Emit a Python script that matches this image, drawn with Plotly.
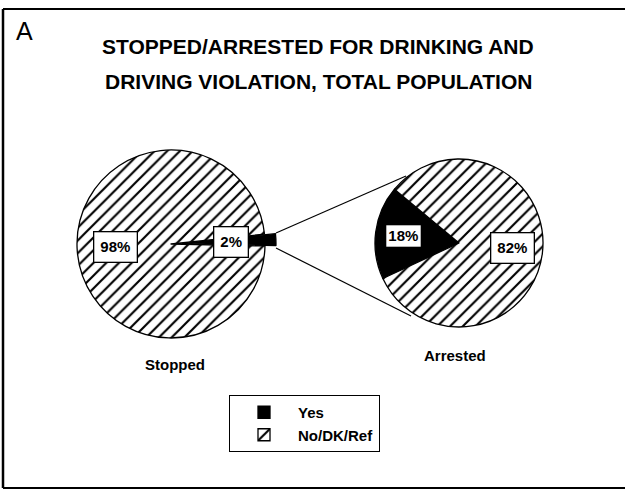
import plotly.graph_objects as go

# ---- data ----
categories = ["Yes", "No/DK/Ref"]
stopped_values = [2, 98]
arrested_values = [18, 82]
pie_names = ["Stopped", "Arrested"]
title_lines = ["STOPPED/ARRESTED FOR DRINKING AND", "DRIVING VIOLATION, TOTAL POPULATION"]
panel_letter = "A"

W, H = 625, 491
FONT = "Liberation Sans"


def px_x(x):
    return x / W


def px_y(y):
    return 1 - y / H


def box_x(x0, x1):
    return [x0 / W, x1 / W]


def box_y(y0, y1):
    return [1 - y1 / H, 1 - y0 / H]


common_marker = dict(
    colors=["black", "white"],
    line=dict(color="black", width=1.3),
    pattern=dict(shape=["", "/"], fgcolor="black", bgcolor="white",
                 size=9, solidity=0.24),
)

fig = go.Figure()
fig.add_trace(go.Pie(
    labels=categories, values=stopped_values, name=pie_names[0],
    sort=False, direction="clockwise", rotation=84,
    pull=[0.117, 0], textinfo="none", hoverinfo="label+percent",
    marker=common_marker,
    domain=dict(x=box_x(66, 276), y=box_y(139, 349)),
))
fig.add_trace(go.Pie(
    labels=categories, values=arrested_values, name=pie_names[1],
    sort=False, direction="clockwise", rotation=245,
    pull=[0, 0], textinfo="none", hoverinfo="label+percent",
    marker=common_marker,
    domain=dict(x=box_x(375, 543), y=box_y(159, 327)),
))

annotations = []
# title
for txt, yy in zip(title_lines, [47, 81]):
    annotations.append(dict(text=txt, x=px_x(318), y=px_y(yy), xref="paper", yref="paper",
                            showarrow=False, xanchor="center", yanchor="middle",
                            font=dict(family=FONT, size=21, color="black", weight="bold")))
annotations.append(dict(text=panel_letter, x=px_x(14), y=px_y(31), xref="paper", yref="paper",
                        showarrow=False, xanchor="left", yanchor="middle",
                        font=dict(family=FONT, size=25, color="black")))

# percentage labels (boxes)
label_specs = [
    (f"{stopped_values[1]}%", 115, 247, 6),
    (f"{stopped_values[0]}%", 231, 242, 6),
    (f"{arrested_values[0]}%", 403, 236, 2),
    (f"{arrested_values[1]}%", 512, 248, 6),
]
for txt, x, y, pad in label_specs:
    annotations.append(dict(text=txt, x=px_x(x), y=px_y(y), xref="paper", yref="paper",
                            showarrow=False, xanchor="center", yanchor="middle",
                            bgcolor="white", bordercolor="black", borderwidth=1.3, borderpad=pad,
                            font=dict(family=FONT, size=15, color="black", weight="bold")))
# pie names
for name, x, y in zip(pie_names, [175, 455], [364, 355]):
    annotations.append(dict(text=name, x=px_x(x), y=px_y(y), xref="paper", yref="paper",
                            showarrow=False, xanchor="center", yanchor="middle",
                            font=dict(family=FONT, size=15, color="black", weight="bold")))

shapes = [
    # frame (top, left, bottom)
    dict(type="line", xref="paper", yref="paper", x0=px_x(3), x1=1, y0=px_y(9), y1=px_y(9),
         line=dict(color="black", width=2)),
    dict(type="line", xref="paper", yref="paper", x0=px_x(3), x1=px_x(3), y0=px_y(9), y1=px_y(488),
         line=dict(color="black", width=2.5)),
    dict(type="line", xref="paper", yref="paper", x0=px_x(3), x1=1, y0=px_y(488), y1=px_y(488),
         line=dict(color="black", width=2)),
    # connector lines from exploded slice to second pie
    dict(type="line", xref="paper", yref="paper", x0=px_x(276), x1=px_x(406), y0=px_y(233), y1=px_y(176),
         line=dict(color="black", width=1.2)),
    dict(type="line", xref="paper", yref="paper", x0=px_x(276), x1=px_x(411), y0=px_y(248), y1=px_y(316),
         line=dict(color="black", width=1.2)),
]

fig.update_layout(
    width=W, height=H,
    margin=dict(l=0, r=0, t=0, b=0),
    paper_bgcolor="white", plot_bgcolor="white",
    annotations=annotations, shapes=shapes,
    showlegend=True,
    legend=dict(x=px_x(229), y=px_y(395), xanchor="left", yanchor="top",
                bordercolor="black", borderwidth=1, bgcolor="white",
                font=dict(family=FONT, size=15, color="black", weight="bold"),
                itemwidth=58, traceorder="normal"),
)

fig.write_html("out.html", config={"displayModeBar": False},
               post_script="document.body.style.margin='0';")
